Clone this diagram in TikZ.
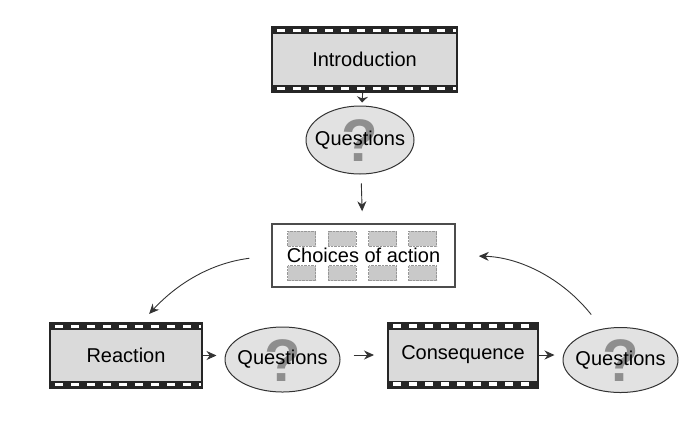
\documentclass[tikz,border=0pt]{standalone}
\usepackage{fontspec}
\setmainfont{Liberation Sans}
\usetikzlibrary{shapes.geometric, arrows.meta}
\definecolor{filmgray}{HTML}{DADADA}
\definecolor{filmdark}{HTML}{262626}
\definecolor{bubblegray}{HTML}{E2E2E2}
\definecolor{markgray}{HTML}{8E8E8E}
\definecolor{tilegray}{HTML}{C9C9C9}
\definecolor{linegray}{HTML}{333333}

\begin{document}
\begin{tikzpicture}
      [x=1pt, y=-1pt,
        every node/.style={font=\fontsize{20}{24}\selectfont},
        film/.style={draw=filmdark, line width=2pt, fill=filmgray, inner sep=0pt,
          minimum height=65pt,
          path picture={
            \fill[filmdark] (path picture bounding box.north west) rectangle ([yshift=-7pt]path picture bounding box.north east);
            \fill[filmdark] (path picture bounding box.south west) rectangle ([yshift=7pt]path picture bounding box.south east);
            \foreach \k in {0,...,13} {
              \fill[white] ([xshift=5pt+\k*16pt, yshift=-1.8pt]path picture bounding box.north west) rectangle ++(8pt,-3.4pt);
              \fill[white] ([xshift=5pt+\k*16pt, yshift=1.8pt]path picture bounding box.south west) rectangle ++(8pt,3.4pt);
            }}},
        qmark/.style={font=\fontsize{60}{64}\selectfont\bfseries, text=markgray, inner sep=0pt},
        qbubble/.style={ellipse, draw=linegray, line width=1pt, fill=bubblegray,
          inner xsep=-15pt, inner ysep=0pt, minimum width=115pt, minimum height=65pt,
          path picture={\node[qmark] (mark) at ([yshift=-1pt]path picture bounding box.center) {?};}},
        choicebox/.style={draw=black!70, line width=1.5pt, fill=white, inner sep=0pt,
          minimum width=183pt, minimum height=63pt},
        tile/.style={draw=tilegray!75!black, densely dotted, line width=0.4pt, fill=tilegray,
          inner sep=0pt, minimum width=28pt, minimum height=15pt},
        link/.style={draw=linegray, line width=0.9pt, -{Stealth[length=10pt, width=9pt]}}]
      \useasboundingbox (0,0) rectangle (700,424);
      \node[film, minimum width=185pt] (intro) at (364.5,59.5) {Introduction};
      \node[qbubble, minimum width=108pt, minimum height=68pt] (ask) at (360,140) {Questions};
      \node[choicebox] (choices) at (363.5,255.5) {Choices of action};
      \foreach \i/\dx in {1/-62, 2/-21.5, 3/19, 4/59} {
        \node[tile] (tile-\i-top) at ([shift={(\dx,-17)}]choices.center) {};
        \node[tile] (tile-\i-bot) at ([shift={(\dx,17.5)}]choices.center) {};
      }
      \node[film, minimum width=152pt] (reaction) at (126,355.5) {Reaction};
      \node[qbubble] (askreact) at (282.5,359.5) {Questions};
      \node[film, minimum width=150pt] (consequence) at (463,355) {Consequence};
      \node[qbubble] (askcons) at (620.5,360) {Questions};
      \draw[link, -{Stealth[length=6pt, width=11pt]}, shorten >=3pt] (intro) -- (ask);
      \draw[link, shorten <=9pt, shorten >=12pt] (ask) -- (choices);
      \draw[link, shorten >=8pt] (reaction.east) -- (reaction.east -| askreact.west);
      \draw[link, shorten <=13pt, shorten >=13pt] (consequence.west -| askreact.east) -- (consequence.west);
      \draw[link, shorten >=8pt] (consequence.east) -- (consequence.east -| askcons.west);
      \draw[link, shorten <=22pt, shorten >=11pt] (choices.west) to[bend right=20] (reaction.65);
      \draw[link, shorten <=18pt, shorten >=23pt] (askcons.120) to[bend right=25] (choices.east);
    \end{tikzpicture}
\end{document}
